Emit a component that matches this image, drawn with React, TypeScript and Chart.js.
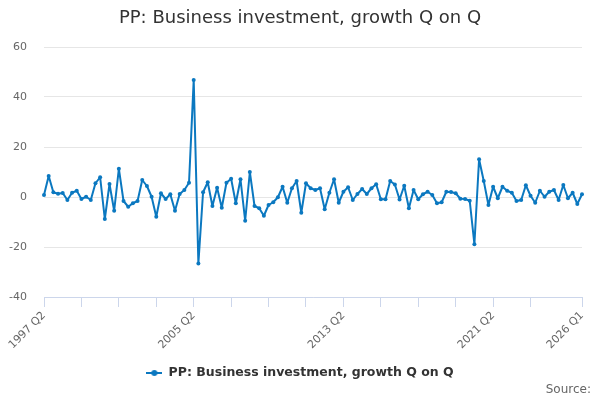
import React, { useEffect, useRef } from "react";
import { Chart, registerables } from "chart.js";

Chart.register(...registerables);

const FONT = "'DejaVu Sans', sans-serif";
const LINE_COLOR = "#0b78c0";

const TITLE = "PP: Business investment, growth Q on Q";
const SERIES_NAME = "PP: Business investment, growth Q on Q";
const SOURCE = "Source:";

const FIRST_YEAR = 1997;
const FIRST_QUARTER = 2;
const COUNT = 116;

const categories: string[] = [];
for (let i = 0; i < COUNT; i++) {
  const q = FIRST_QUARTER - 1 + i;
  categories.push(`${FIRST_YEAR + Math.floor(q / 4)} Q${(q % 4) + 1}`);
}

const values: number[] = [
  0.8, 8.4, 1.9, 1.3, 1.6, -1.2, 1.7, 2.5, -0.8, 0.1,
  -1.2, 5.5, 7.9, -8.8, 5.2, -5.5, 11.3, -1.6, -3.9, -2.5,
  -1.6, 6.8, 4.4, 0.1, -7.9, 1.5, -0.8, 1.1, -5.5, 1.2,
  2.8, 5.7, 46.8, -26.6, 1.9, 5.9, -3.6, 3.7, -4.3, 5.7,
  7.3, -2.5, 7.1, -9.5, 10.0, -3.6, -4.5, -7.5, -3.2, -2.1,
  -0.1, 4.1, -2.3, 3.5, 6.4, -6.3, 5.5, 3.5, 2.8, 3.5,
  -4.9, 1.7, 7.1, -2.3, 2.1, 3.9, -1.2, 1.2, 3.2, 1.2,
  3.5, 5.1, -0.9, -0.9, 6.4, 5.0, -1.0, 4.5, -4.5, 2.8,
  -0.9, 1.1, 2.1, 0.8, -2.5, -2.1, 2.1, 2.0, 1.5, -0.7,
  -0.8, -1.5, -18.9, 15.1, 6.4, -3.2, 4.1, -0.5, 4.1, 2.5,
  1.7, -1.6, -1.2, 4.7, 0.5, -2.3, 2.5, 0.1, 2.1, 2.8,
  -1.2, 4.8, -0.5, 1.7, -2.8, 1.1,
];

const tickIndices: number[] = [0, 8, 16, 24, 32, 40, 48, 56, 64, 72, 80, 88, 96, 104, 115];
const labelledIndices: number[] = [0, 32, 64, 96, 115];

const Y_MIN = -40;
const Y_MAX = 60;
const Y_STEP = 20;

function makeLegendSymbol(): HTMLCanvasElement {
  const c = document.createElement("canvas");
  c.width = 16;
  c.height = 8;
  const ctx = c.getContext("2d")!;
  ctx.strokeStyle = LINE_COLOR;
  ctx.lineWidth = 2;
  ctx.beginPath();
  ctx.moveTo(0, 4);
  ctx.lineTo(16, 4);
  ctx.stroke();
  ctx.fillStyle = LINE_COLOR;
  ctx.beginPath();
  ctx.arc(8, 4, 3, 0, Math.PI * 2);
  ctx.fill();
  return c;
}

export default function App() {
  const ref = useRef<HTMLCanvasElement | null>(null);

  useEffect(() => {
    if (!ref.current) return;
    const symbol = makeLegendSymbol();
    const chart = new Chart(ref.current, {
      type: "line",
      data: {
        labels: categories,
        datasets: [
          {
            label: SERIES_NAME,
            data: values,
            borderColor: LINE_COLOR,
            backgroundColor: LINE_COLOR,
            borderWidth: 2,
            borderJoinStyle: "round",
            borderCapStyle: "round",
            pointRadius: 2,
            pointBorderWidth: 0,
            pointBackgroundColor: LINE_COLOR,
            tension: 0,
          },
        ],
      },
      options: {
        responsive: false,
        animation: false,
        devicePixelRatio: 1,
        layout: { padding: { left: 9, right: 9, top: 0, bottom: 0 } },
        plugins: {
          title: {
            display: true,
            text: TITLE,
            color: "#333333",
            font: { family: FONT, size: 18, weight: "normal" },
            padding: { top: 8, bottom: 17.4 },
          },
          subtitle: {
            display: true,
            text: SOURCE,
            position: "bottom",
            align: "end",
            color: "#666666",
            font: { family: FONT, size: 12, weight: "normal" },
            padding: { top: -6.45, bottom: 2.8 },
          },
          legend: {
            display: true,
            position: "bottom",
            labels: {
              usePointStyle: true,
              pointStyle: symbol,
              pointStyleWidth: 16,
              color: "#333333",
              font: { family: FONT, size: 12.5, weight: "bold" },
              padding: 10,
            },
          },
          tooltip: { enabled: false },
        },
        scales: {
          x: {
            type: "category",
            offset: false,
            grid: {
              drawOnChartArea: false,
              drawTicks: true,
              tickLength: 10,
              color: "#ccd6eb",
            },
            border: { display: true, color: "#ccd6eb", width: 1 },
            ticks: {
              autoSkip: false,
              maxRotation: 45,
              minRotation: 45,
              color: "#666666",
              font: { family: FONT, size: 11 },
              padding: 2,
              callback: (value: any) =>
                labelledIndices.includes(Number(value)) ? categories[Number(value)] : "",
            },
            afterBuildTicks: (scale: any) => {
              scale.ticks = tickIndices.map((v) => ({ value: v }));
            },
            afterFit: (scale: any) => {
              scale.height = 59.75;
              scale.paddingRight = 18;
            },
          },
          y: {
            min: Y_MIN,
            max: Y_MAX,
            grid: { color: "#e6e6e6", drawTicks: false },
            border: { display: false },
            ticks: {
              stepSize: Y_STEP,
              color: "#666666",
              font: { family: FONT, size: 11 },
              padding: 17,
            },
            afterFit: (scale: any) => {
              scale.width = 35;
            },
          },
        },
      },
    });
    return () => chart.destroy();
  }, []);

  return (
    <div style={{ position: "absolute", left: 0, top: 0, width: 600, height: 400, background: "#fff" }}>
      <canvas ref={ref} width={600} height={400} style={{ width: 600, height: 400 }} />
    </div>
  );
}
